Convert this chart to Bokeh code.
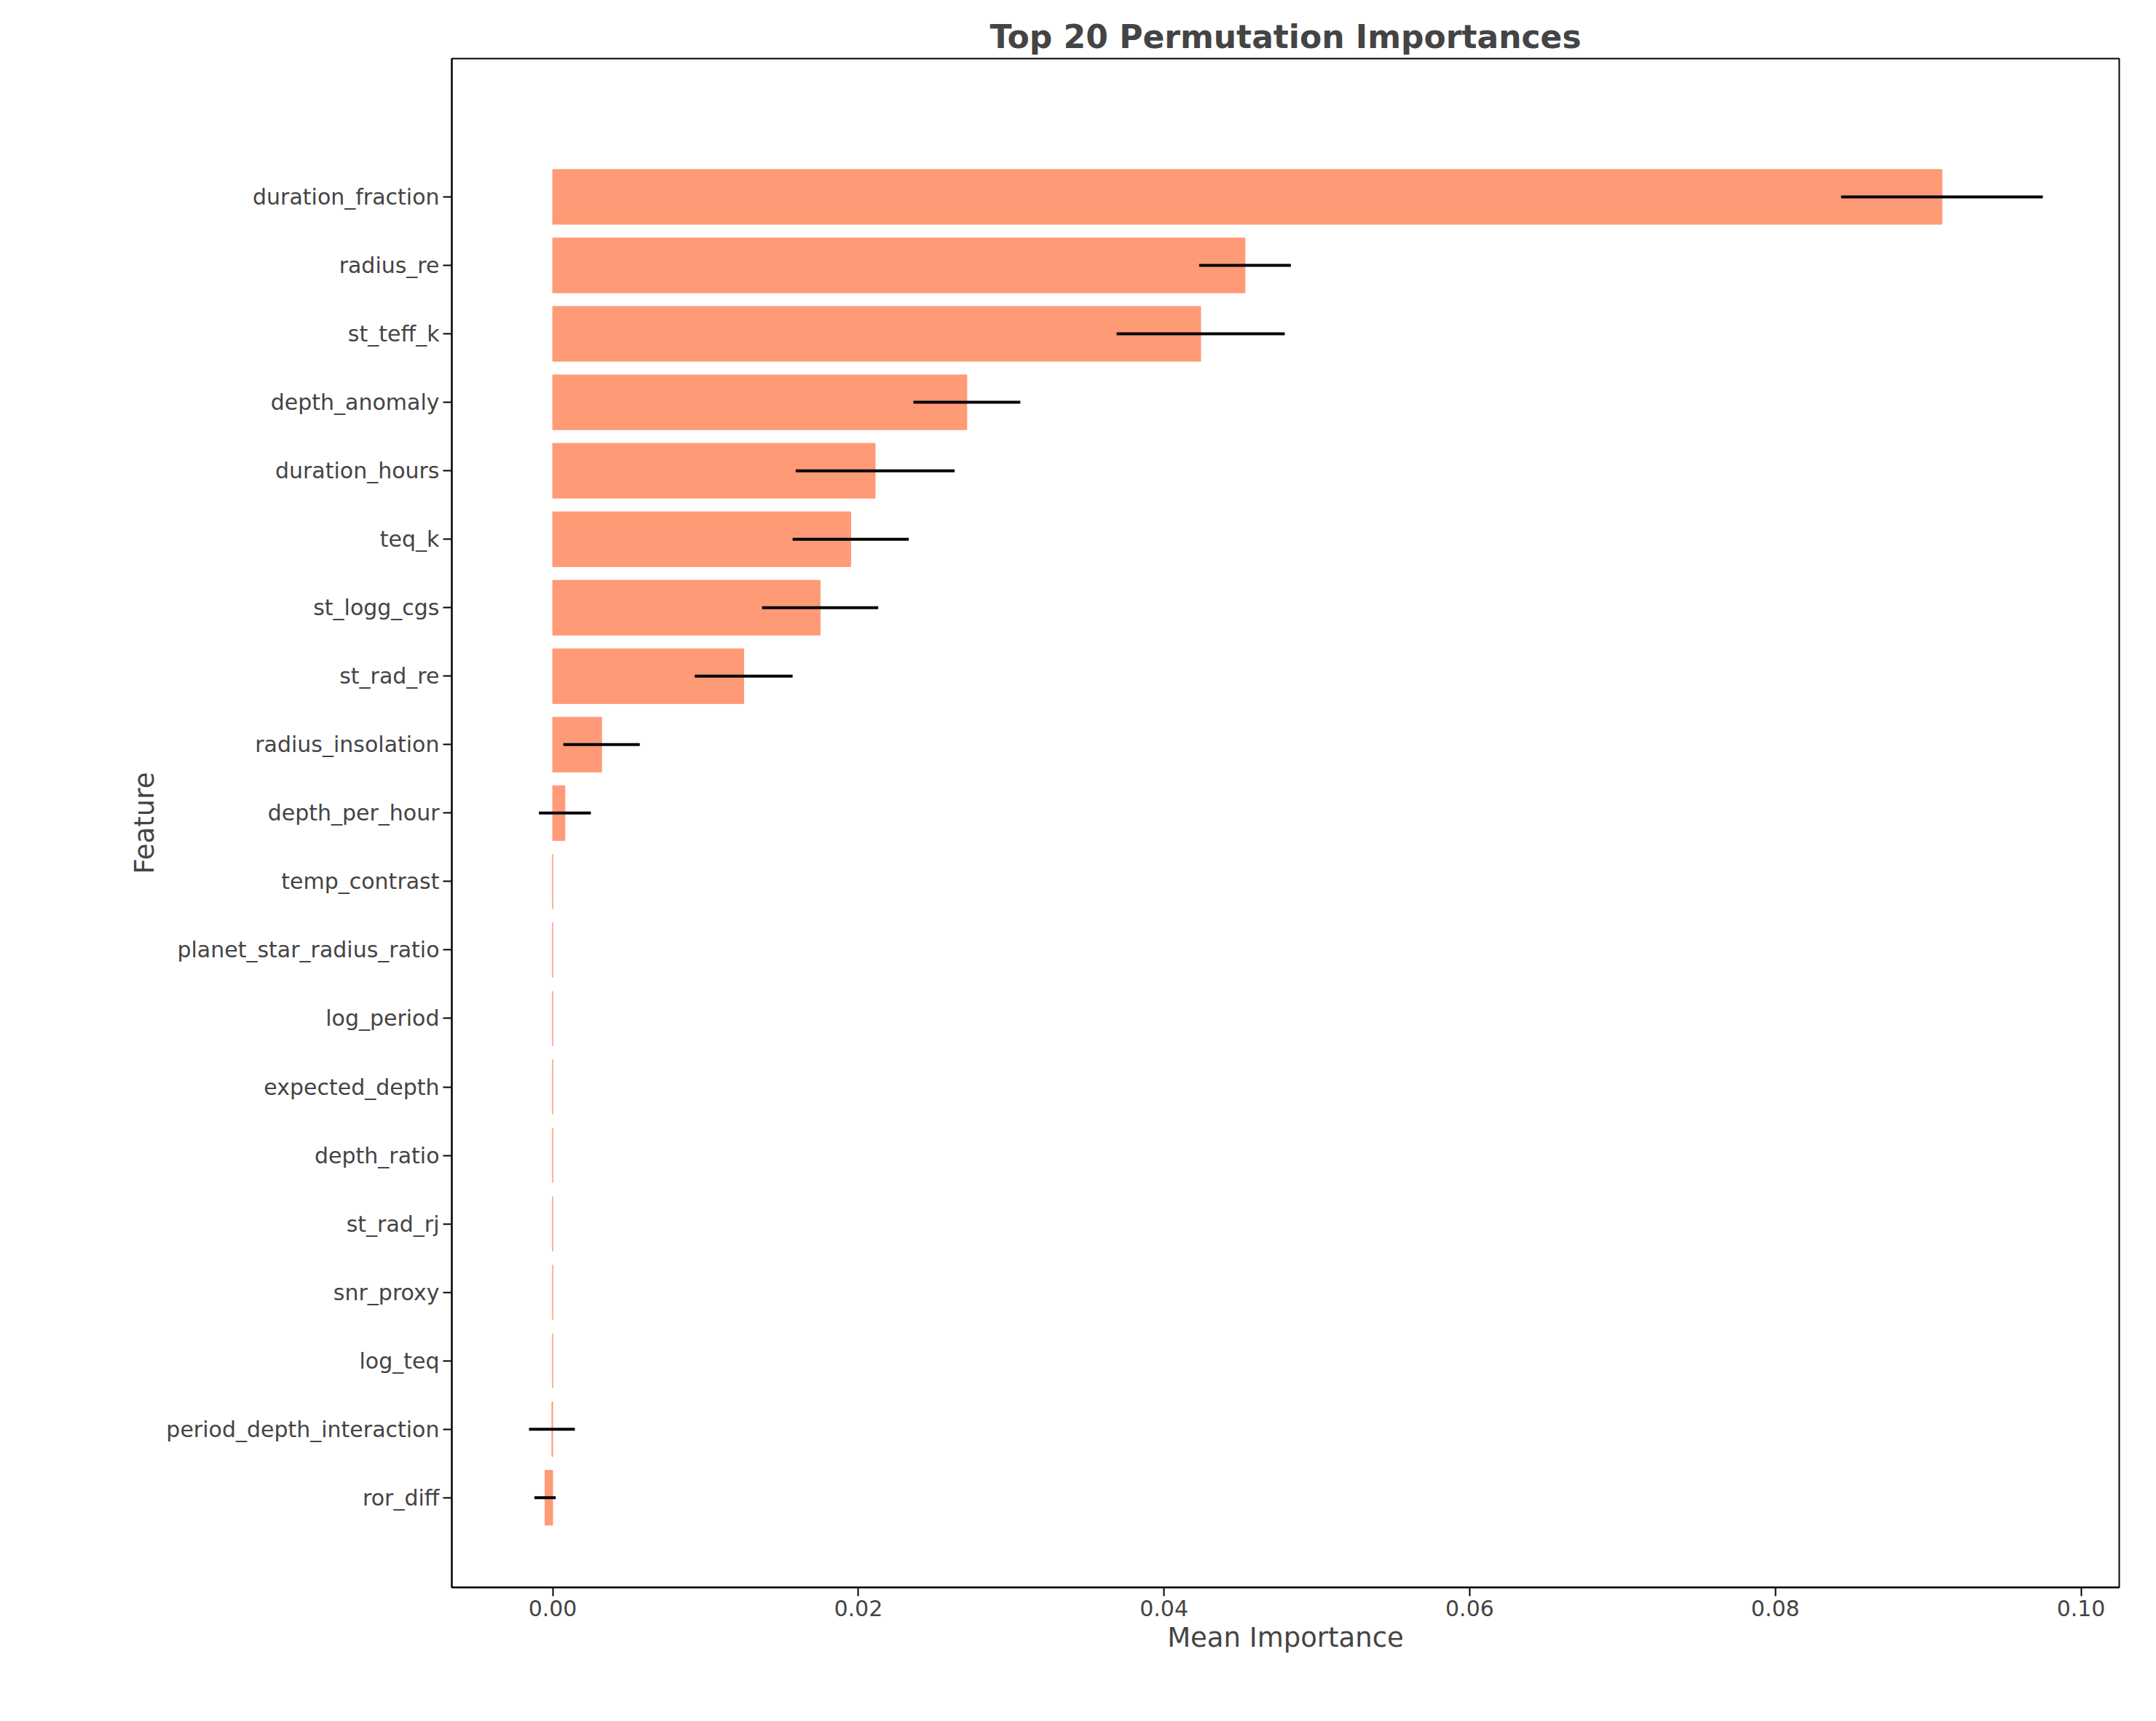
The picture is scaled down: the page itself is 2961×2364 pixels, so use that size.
from bokeh.plotting import figure
from bokeh.models import Range1d, FixedTicker, ColumnDataSource
from bokeh.embed import file_html
from bokeh.resources import INLINE

features = ["duration_fraction","radius_re","st_teff_k","depth_anomaly","duration_hours","teq_k",
            "st_logg_cgs","st_rad_re","radius_insolation","depth_per_hour","temp_contrast",
            "planet_star_radius_ratio","log_period","expected_depth","depth_ratio","st_rad_rj",
            "snr_proxy","log_teq","period_depth_interaction","ror_diff"]
means = [0.0909,0.0453,0.0424,0.0271,0.0211,0.0195,0.0175,0.0125,0.0032,0.0008,
         0,0,0,0,0,0,0,0,-0.00005,-0.0005]
stds = [0.0066,0.0030,0.0055,0.0035,0.0052,0.0038,0.0038,0.0032,0.0025,0.0017,
        0,0,0,0,0,0,0,0,0.0015,0.0007]

n = len(features)
ys = [n-1-i for i in range(n)]
src = ColumnDataSource(dict(y=ys, m=means, lo=[m-s for m,s in zip(means,stds)],
                            hi=[m+s for m,s in zip(means,stds)]))

p = figure(width=2940, height=2340, output_backend="svg", toolbar_location=None,
           x_range=Range1d(-0.0066, 0.1025), y_range=Range1d(-1.31, n-1+2.02),
           title="Top 20 Permutation Importances", min_border_left=620, min_border_right=30,
           min_border_top=80, min_border_bottom=160)
p.hbar(y="y", left=0, right="m", height=0.8, source=src, color="#FF9A76")
p.segment(x0="lo", x1="hi", y0="y", y1="y", source=src, line_color="black", line_width=4)
p.yaxis.ticker = FixedTicker(ticks=ys)
p.yaxis.major_label_overrides = {y: f for y, f in zip(ys, features)}
p.xaxis.ticker = FixedTicker(ticks=[0,0.02,0.04,0.06,0.08,0.10])
p.xaxis.major_label_overrides = {0:"0.00",0.02:"0.02",0.04:"0.04",0.06:"0.06",0.08:"0.08",0.1:"0.10"}
p.xgrid.visible = False
p.ygrid.visible = False
p.xaxis.minor_tick_line_color = None
p.outline_line_color = "black"
p.outline_line_width = 2
for ax in (p.xaxis, p.yaxis):
    ax.major_label_text_font_size = "30px"
    ax.major_label_text_font = "DejaVu Sans"
    ax.axis_label_text_font_size = "37px"
    ax.axis_label_text_font = "DejaVu Sans"
    ax.axis_label_text_font_style = "normal"
    ax.major_tick_line_width = 2
    ax.axis_line_width = 2
    ax.major_tick_out = 12
    ax.major_tick_in = 0
p.xaxis.axis_label = "Mean Importance"
p.yaxis.axis_label = "Feature"
p.title.text_font_size = "44px"
p.title.text_font = "DejaVu Sans"
p.title.align = "center"
p.title.text_font_style = "bold"

open("out.html", "w").write(file_html(p, INLINE))
